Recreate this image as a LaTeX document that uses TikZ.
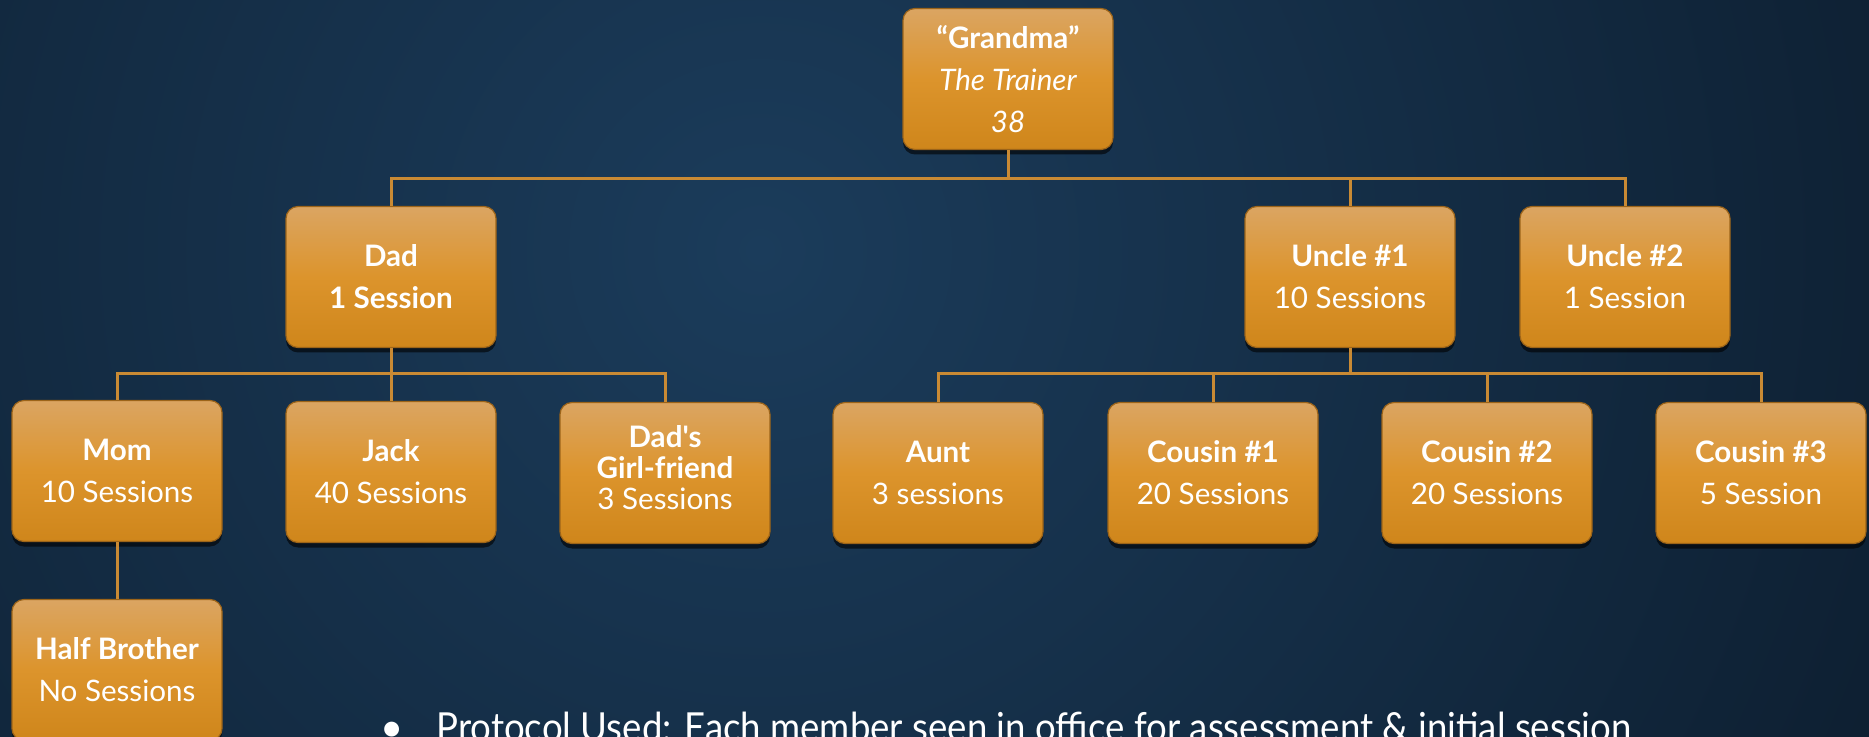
\documentclass[tikz,border=0pt]{standalone}
\usepackage{fontspec}
\newfontfamily\lato{Lato}
\usetikzlibrary{shadows}
\definecolor{bginner}{HTML}{1B3C5B}
\definecolor{bgouter}{HTML}{050D17}
\definecolor{boxtop}{HTML}{DBA562}
\definecolor{boxmid}{HTML}{DC942C}
\definecolor{boxbot}{HTML}{CF861B}
\definecolor{boxedge}{HTML}{9C6419}
\definecolor{linkcol}{HTML}{C98A34}
\begin{document}
\begin{tikzpicture}[x=0.5pt,y=-0.5pt,
  member/.style={draw=boxedge, line width=0.6pt, rounded corners=6pt,
    top color=boxtop, bottom color=boxbot, middle color=boxmid,
    minimum width=105pt, minimum height=70.5pt, inner sep=0pt, align=center,
    text=white, font=\lato\fontsize{14.8}{21}\selectfont,
    drop shadow={opacity=0.6, shadow xshift=0pt, shadow yshift=-2.5pt, fill=black}},
  link/.style={draw=linkcol, line width=1.5pt},
  note/.style={text=white, inner sep=0pt, font=\lato\fontsize{20}{24}\selectfont}]
\useasboundingbox (0,0) rectangle (1869,737);
\begin{scope}
\clip (0,0) rectangle (1869,737);
\shade[inner color=bginner, outer color=bgouter] (760,250) circle (2000);
\end{scope}
\coordinate (gbar) at (0,179);
\coordinate (dbar) at (0,374);
\node[member] (grandma) at (1008,79) {{\bfseries “Grandma”}\\{\itshape The Trainer}\\{\itshape 38}};
\node[member] (dad) at (391,277) {{\bfseries Dad}\\{\bfseries 1 Session}};
\node[member] (uncleA) at (1350,277) {{\bfseries Uncle \#1}\\10 Sessions};
\node[member] (uncleB) at (1625,277) {{\bfseries Uncle \#2}\\1 Session};
\node[member] (mom) at (117,471) {{\bfseries Mom}\\10 Sessions};
\node[member] (jack) at (391,472) {{\bfseries Jack}\\40 Sessions};
\node[member, font=\lato\fontsize{14.8}{15.5}\selectfont] (girlfriend) at (665,473) {{\bfseries Dad's}\\{\bfseries Girl-friend}\\3 Sessions\\[-10.5pt]};
\node[member] (aunt) at (938,473) {{\bfseries Aunt}\\3 sessions};
\node[member] (cousinA) at (1213,473) {{\bfseries Cousin \#1}\\20 Sessions};
\node[member] (cousinB) at (1487,473) {{\bfseries Cousin \#2}\\20 Sessions};
\node[member] (cousinC) at (1761,473) {{\bfseries Cousin \#3}\\5 Session};
\node[member] (halfbro) at (117,670) {{\bfseries Half Brother}\\No Sessions};
\draw[link] (grandma.south) -- (grandma.south |- gbar);
\draw[link] (dad.north) -- (dad.north |- gbar) -- (uncleB.north |- gbar) -- (uncleB.north);
\draw[link] (uncleA.north) -- (uncleA.north |- gbar);
\draw[link] (dad.south) -- (dad.south |- dbar);
\draw[link] (mom.north) -- (mom.north |- dbar) -- (girlfriend.north |- dbar) -- (girlfriend.north);
\draw[link] (jack.north) -- (jack.north |- dbar);
\draw[link] (uncleA.south) -- (uncleA.south |- dbar);
\draw[link] (aunt.north) -- (aunt.north |- dbar) -- (cousinC.north |- dbar) -- (cousinC.north);
\draw[link] (cousinA.north) -- (cousinA.north |- dbar);
\draw[link] (cousinB.north) -- (cousinB.north |- dbar);
\draw[link] (mom.south) -- (halfbro.north);
\node[note, anchor=base] (bullet) at (392,741) {•};
\node[note, anchor=base west] (protocol) at (436,741) {\scalebox{0.915}[1]{Protocol Used: Each member seen in office for assessment \& initial session}};
\end{tikzpicture}
\end{document}
